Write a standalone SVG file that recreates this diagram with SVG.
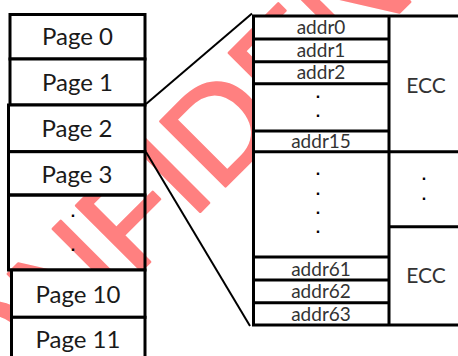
<svg xmlns="http://www.w3.org/2000/svg" width="458" height="356" viewBox="0 0 458 356">
<style>
.box{fill:#fff;stroke:#000;stroke-width:3}
.open{fill:none;stroke:#000;stroke-width:3}
.ln{stroke:#000;stroke-width:3;fill:none}
.conn{stroke:#000;stroke-width:2;fill:none}
.pg{font-family:Lato,"Liberation Sans",sans-serif;font-size:24px;fill:#1a1a1a;text-anchor:middle}
.ad{font-family:Lato,"Liberation Sans",sans-serif;font-size:19px;fill:#333;text-anchor:middle}
.ecc{font-family:Lato,"Liberation Sans",sans-serif;font-size:21px;fill:#333;text-anchor:middle}
.dot{font-family:"Liberation Sans",sans-serif;font-size:16px;font-weight:bold;fill:#000;text-anchor:middle}
.wm{font-family:"Liberation Sans",sans-serif;font-size:134px;fill:#ff8080;stroke:#ff8080;stroke-width:2.5;stroke-linejoin:round}
</style>
<rect width="458" height="356" fill="#fff"/>
<g id="watermark">
<text class="wm" transform="translate(-77,489) rotate(-45)">CONFIDENTIAL</text>
</g>
<g id="pages">
<g id="page0"><rect class="box" x="10" y="14.5" width="135" height="44.5"/><text class="pg" x="77.5" y="45">Page 0</text></g>
<g id="page1"><rect class="box" x="10" y="59" width="135" height="46"/><text class="pg" x="77.5" y="90.5">Page 1</text></g>
<g id="page2"><rect class="box" x="8.5" y="105" width="136.5" height="46.7"/><text class="pg" x="77" y="137">Page 2</text></g>
<g id="page3"><rect class="box" x="8.5" y="151.7" width="136.5" height="43.3"/><text class="pg" x="77" y="182.5">Page 3</text></g>
<g id="pages-gap"><rect class="open" x="8.5" y="195" width="136.5" height="75"/><text class="dot"><tspan x="73" y="216.5">.</tspan><tspan x="73" y="250.5">.</tspan></text></g>
<g id="page10"><rect class="box" x="11.5" y="270" width="133.5" height="47.3"/><text class="pg" x="78" y="302.5">Page 10</text></g>
<g id="page11"><rect class="box" x="11.5" y="317.3" width="133.5" height="50"/><text class="pg" x="78" y="347.5">Page 11</text></g>
</g>
<g id="page-detail">
<rect class="box" x="253.5" y="16" width="220" height="309"/>
<line class="ln" x1="389" y1="16" x2="389" y2="325"/>
<line class="ln" x1="253.5" y1="39" x2="389" y2="39"/>
<line class="ln" x1="253.5" y1="61.7" x2="389" y2="61.7"/>
<line class="ln" x1="253.5" y1="83.7" x2="389" y2="83.7"/>
<line class="ln" x1="253.5" y1="131" x2="389" y2="131"/>
<line class="ln" x1="253.5" y1="151.7" x2="470" y2="151.7"/>
<line class="ln" x1="389" y1="226.7" x2="470" y2="226.7"/>
<line class="ln" x1="253.5" y1="257" x2="389" y2="257"/>
<line class="ln" x1="253.5" y1="280" x2="389" y2="280"/>
<line class="ln" x1="253.5" y1="302.7" x2="389" y2="302.7"/>
<text class="ad" x="321" y="34">addr0</text>
<text class="ad" x="321" y="57">addr1</text>
<text class="ad" x="321" y="79.3">addr2</text>
<text class="dot"><tspan x="318" y="98">.</tspan><tspan x="318" y="117">.</tspan></text>
<text class="ad" x="321" y="148">addr15</text>
<text class="dot"><tspan x="318" y="175">.</tspan><tspan x="318" y="195">.</tspan><tspan x="318" y="214">.</tspan><tspan x="318" y="233">.</tspan></text>
<text class="ad" x="321" y="276">addr61</text>
<text class="ad" x="321" y="298.3">addr62</text>
<text class="ad" x="321" y="320.7">addr63</text>
<text class="ecc" x="426" y="92.7">ECC</text>
<text class="dot"><tspan x="424" y="179.5">.</tspan><tspan x="424" y="199.5">.</tspan></text>
<text class="ecc" x="426" y="283.3">ECC</text>
</g>
<g id="connectors">
<line class="conn" x1="146" y1="104" x2="252" y2="13.5"/>
<line class="conn" x1="146" y1="152" x2="250" y2="326"/>
</g>
</svg>
